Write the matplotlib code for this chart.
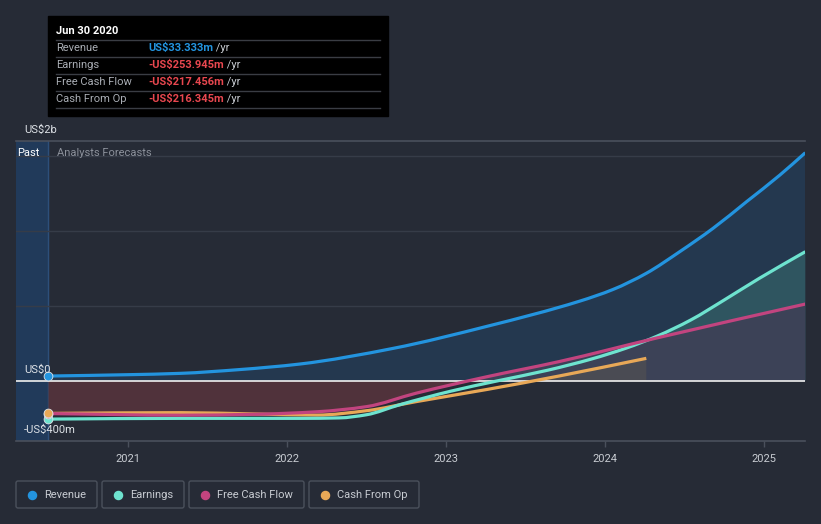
import matplotlib
matplotlib.use("Agg")
import matplotlib.pyplot as plt
import numpy as np
from matplotlib.patches import FancyBboxPatch, Rectangle, PathPatch
from matplotlib.path import Path

plt.rcParams['font.family'] = ['Roboto', 'DejaVu Sans']

# values in US$ millions, x in decimal years
rev_x = [2020.5, 2021.0, 2021.33, 2021.7, 2022.08, 2022.67, 2023.26, 2023.84, 2024.05, 2024.26, 2024.47, 2024.68, 2024.89, 2025.10, 2025.26]
rev_y = [33, 42, 51, 76, 113, 218, 365, 532, 610, 718, 862, 1018, 1195, 1373, 1522]

earn_x = [2020.5, 2021.33, 2022.08, 2022.33, 2022.5, 2022.71, 2023.03, 2023.32, 2023.64, 2023.92, 2024.13, 2024.33, 2024.54, 2024.75, 2024.97, 2025.26]
earn_y = [-254, -249, -249, -246, -225, -158, -68, 0, 72, 148, 218, 300, 407, 540, 684, 862]

fcf_x = [2020.5, 2021.33, 2021.8, 2022.19, 2022.5, 2022.81, 2023.26, 2023.71, 2024.33, 2025.26]
fcf_y = [-217, -228, -222, -205, -171, -82, 29, 129, 288, 513]

cfo_x = [2020.5, 2021.33, 2021.8, 2022.19, 2022.5, 2022.81, 2023.26, 2023.71, 2024.26]
cfo_y = [-216, -211, -220, -227, -198, -138, -56, 33, 151]

years = [2021, 2022, 2023, 2024, 2025]
tip_rows = ["Revenue", "Earnings", "Free Cash Flow", "Cash From Op"]
tip_vals = ["US$33.333m", "-US$253.945m", "-US$217.456m", "-US$216.345m"]
legend_names = ["Revenue", "Earnings", "Free Cash Flow", "Cash From Op"]

BG = '#262b36'
C_REV = '#2394df'
C_EARN = '#6ee3cf'
C_FCF = '#c2447f'
C_CFO = '#e8a857'


def curve_verts(xs, ys):
    # monotone cubic (Fritsch-Carlson) drawn as bezier segments
    x = np.asarray(xs, float)
    y = np.asarray(ys, float)
    h = np.diff(x)
    d = np.diff(y) / h
    m = np.zeros_like(y)
    m[0], m[-1] = d[0], d[-1]
    for i in range(1, len(y) - 1):
        if d[i - 1] * d[i] <= 0:
            m[i] = 0
        else:
            w1 = 2 * h[i] + h[i - 1]
            w2 = h[i] + 2 * h[i - 1]
            m[i] = (w1 + w2) / (w1 / d[i - 1] + w2 / d[i])
    verts = [(x[0], y[0])]
    codes = [Path.MOVETO]
    for i in range(len(x) - 1):
        verts += [(x[i] + h[i] / 3, y[i] + m[i] * h[i] / 3),
                  (x[i + 1] - h[i] / 3, y[i + 1] - m[i + 1] * h[i] / 3),
                  (x[i + 1], y[i + 1])]
        codes += [Path.CURVE4] * 3
    return verts, codes


def draw_line(ax, xs, ys, color, z):
    v, c = curve_verts(xs, ys)
    ax.add_patch(PathPatch(Path(v, c), fill=False, edgecolor=color, lw=2.3, zorder=z, capstyle='butt'))


def draw_area(ax, xs, ys, color, z, sign=0):
    v, c = curve_verts(xs, ys)
    v = v + [(xs[-1], 0), (xs[0], 0), (xs[0], ys[0])]
    c = c + [Path.LINETO, Path.LINETO, Path.CLOSEPOLY]
    p = PathPatch(Path(v, c), facecolor=color, edgecolor='none', zorder=z)
    ax.add_patch(p)
    if sign:
        clip = Rectangle((2000, 0), 50, 5000 * sign, transform=ax.transData)
        p.set_clip_path(clip)


W, H = 821, 524
fig = plt.figure(figsize=(W / 100, H / 100), dpi=100, facecolor=BG)
ax = fig.add_axes([16 / W, 1 - 441 / H, (805 - 16) / W, 300 / H])
ax.set_facecolor(BG)
ax.set_xlim(2020.296, 2025.258)
ax.set_ylim(-400, 1600)

# past shading
ax.axvspan(ax.get_xlim()[0], 2020.5, color='#213a5a', zorder=0)
ax.axvline(2020.5, color='#2d4f7a', lw=1, zorder=0.5)

for g in [500, 1000, 1500]:
    ax.axhline(g, color='#363c48', lw=1, zorder=0.6)
ax.axhline(1600, color='#4a505c', lw=1.2, zorder=0.6, clip_on=False)

# area fills
draw_area(ax, rev_x, rev_y, '#24384f', 1)
draw_area(ax, earn_x, earn_y, '#2f5560', 1.1, sign=1)
draw_area(ax, fcf_x, fcf_y, '#3c4257', 1.2, sign=1)
draw_area(ax, cfo_x, cfo_y, '#4a4b53', 1.3, sign=1)
draw_area(ax, fcf_x, fcf_y, '#50323b', 1.1, sign=-1)

ax.axhline(0, color='#f0f0f0', lw=1.2, zorder=2)

draw_line(ax, cfo_x, cfo_y, C_CFO, 3)
draw_line(ax, earn_x, earn_y, C_EARN, 3.1)
draw_line(ax, fcf_x, fcf_y, C_FCF, 3.2)
draw_line(ax, rev_x, rev_y, C_REV, 3.3)

for xs, ys, c in [(earn_x, earn_y, C_EARN), (fcf_x, fcf_y, C_FCF), (cfo_x, cfo_y, C_CFO), (rev_x, rev_y, C_REV)]:
    ax.scatter([xs[0]], [ys[0]], s=40, color=c, edgecolor='#dfe3e8', linewidth=0.6, zorder=5, clip_on=False)

for s in ['top', 'left', 'right']:
    ax.spines[s].set_visible(False)
ax.spines['bottom'].set_color('#4a505c')
ax.spines['bottom'].set_linewidth(1.2)
ax.set_yticks([])
ax.set_xticks(years)
ax.set_xticklabels([str(y) for y in years])
ax.tick_params(axis='x', colors='#4a505c', length=4, width=1, labelcolor='#c8ccd2', labelsize=8, pad=5)

ytr = ax.get_yaxis_transform()
for val, lab in [(1600, 'US$2b'), (0, 'US$0'), (-400, '-US$400m')]:
    ax.annotate(lab, (0, val), xycoords=ytr, xytext=(8, 6), textcoords='offset pixels',
                color='#dde1e6', fontsize=8, va='bottom', ha='left', zorder=6, annotation_clip=False)
ax.annotate('Past', (0, 1600), xycoords=ytr, xytext=(1, -12), textcoords='offset pixels',
            color='#ffffff', fontsize=8, va='center', ha='left', zorder=6)
ax.annotate('Analysts Forecasts', (2020.5, 1600), xycoords='data', xytext=(9, -12), textcoords='offset pixels',
            color='#8b909a', fontsize=8, va='center', ha='left', zorder=6)

# overlay axes in pixel coordinates
ov = fig.add_axes([0, 0, 1, 1])
ov.set_xlim(0, W)
ov.set_ylim(H, 0)
ov.axis('off')
ov.patch.set_alpha(0)

# tooltip
ov.add_patch(Rectangle((48, 16), 340, 100, color='#000000', zorder=1))
ov.text(56, 31, 'Jun 30 2020', color='white', fontsize=8, fontweight='bold', va='center', zorder=2)
for i, (lab, v) in enumerate(zip(tip_rows, tip_vals)):
    yy = 48 + 17 * i
    ov.plot([56, 380], [yy - 8, yy - 8], color='#3a3d44', lw=1, zorder=2)
    ov.text(56, yy, lab, color='#a9adb4', fontsize=8, va='center', zorder=2)
    col = C_REV if i == 0 else '#e8474f'
    t = ov.text(148, yy, v, color=col, fontsize=8, fontweight='bold', va='center', zorder=2)
    ov.annotate(' /yr', xy=(1, 0.5), xycoords=t, color='#c8ccd2', fontsize=8, va='center', zorder=2)
ov.plot([56, 380], [108, 108], color='#3a3d44', lw=1, zorder=2)

# legend
boxes = [(16, 97), (102, 184), (189, 304), (309, 419)]
cols = [C_REV, C_EARN, C_FCF, C_CFO]
for (x0, x1), name, c in zip(boxes, legend_names, cols):
    ov.add_patch(FancyBboxPatch((x0, 481), x1 - x0, 27, boxstyle='round,pad=0,rounding_size=2',
                                facecolor='none', edgecolor='#4b515c', lw=1))
    ov.scatter([x0 + 16], [494.5], s=34, color=c, zorder=3)
    ov.text(x0 + 28, 494.5, name, color='#c8ccd2', fontsize=8, va='center', ha='left')

fig.savefig('out.png', dpi=100, facecolor=BG)
